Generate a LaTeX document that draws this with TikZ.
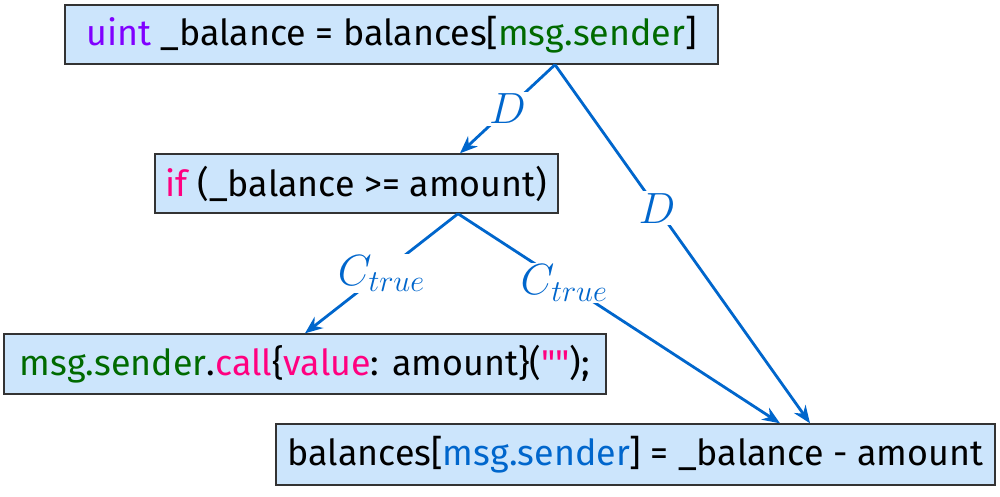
\documentclass[tikz,border=0pt]{standalone}
\usepackage{fontspec}
\newfontfamily\codefont{Fira Sans}
\usepackage{amsmath}
\usepackage{tikz}
\usetikzlibrary{arrows.meta,calc}

\definecolor{boxfill}{HTML}{CCE5FC}
\definecolor{edgeblue}{HTML}{0066CC}
\definecolor{kwpurple}{HTML}{8000FF}
\definecolor{kwgreen}{HTML}{006A00}
\definecolor{kwpink}{HTML}{FF0080}

\begin{document}
\begin{tikzpicture}[
  stmt/.style={draw=black!80, line width=0.8pt, fill=boxfill, inner sep=0pt,
    font=\codefont\fontsize{20.4}{24}\selectfont},
  dep/.style={edgeblue, line width=1.6pt, -{Stealth[length=10pt,width=8pt]}},
  lbl/.style={fill=white, inner sep=1pt, text=edgeblue,
    font=\fontsize{23.5}{28}\selectfont}]
  \useasboundingbox (0,0) rectangle (20,-9.92);

  \node[stmt, minimum width=13.06cm, minimum height=1.18cm] (bal) at (7.83,-0.69)
    {\textcolor{kwpurple}{uint} \_balance = balances[\textcolor{kwgreen}{msg.sender}]};
  \node[stmt, minimum width=8.06cm, minimum height=1.18cm] (cond) at (7.13,-3.67)
    {\textcolor{kwpink}{if} (\_balance >= amount)};
  \node[stmt, minimum width=12.04cm, minimum height=1.2cm] (send) at (6.10,-7.28)
    {\textcolor{kwgreen}{msg.sender}.\textcolor{kwpink}{call}\{\textcolor{kwpink}{value}: amount\}(\textcolor{kwpink}{""});};
  \node[stmt, minimum width=14.38cm, minimum height=1.22cm] (upd) at (12.71,-9.09)
    {balances[\textcolor{edgeblue}{msg.sender}] = \_balance - amount};

  \draw[dep] ([xshift=3.27cm]bal.south) -- node[lbl] {$D$} ([xshift=2.07cm]cond.north);
  \draw[dep] ([xshift=3.27cm]bal.south) -- node[lbl, pos=0.4] {$D$} ([xshift=3.49cm]upd.north);
  \draw[dep] ([xshift=2.03cm]cond.south) -- node[lbl] {$C_{true}$} (send.north);
  \draw[dep] ([xshift=2.03cm]cond.south) -- node[lbl, pos=0.33] {$C_{true}$} ([xshift=2.89cm]upd.north);
\end{tikzpicture}
\end{document}
